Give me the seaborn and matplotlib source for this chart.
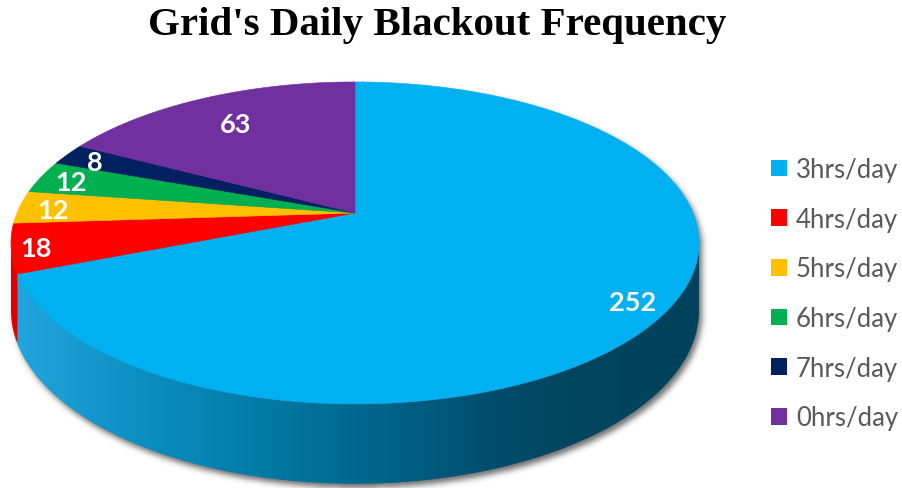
import numpy as np
import matplotlib
matplotlib.use("Agg")
import matplotlib.pyplot as plt
import seaborn as sns
from matplotlib.patches import Polygon, Patch
from matplotlib.path import Path
from matplotlib.colors import LinearSegmentedColormap

# ---- data ----
categories = ["3hrs/day", "4hrs/day", "5hrs/day", "6hrs/day", "7hrs/day", "0hrs/day"]
counts = [252, 18, 12, 12, 8, 63]
colors = ["#00B0F0", "#FF0000", "#FFC000", "#00B050", "#002060", "#7030A0"]
title = "Grid's Daily Blackout Frequency"

sns.set_theme(style="white")
plt.rcParams["font.family"] = ["Lato", "DejaVu Sans"]
palette = sns.color_palette(colors)

W, H = 903, 489
fig = plt.figure(figsize=(W / 100, H / 100), dpi=100)
ax = fig.add_axes([0, 0, 1, 1])
ax.set_xlim(0, W)
ax.set_ylim(H, 0)
ax.axis("off")

# ---- perspective view of the pie disk ----
CX, CY = 355.0, 214.0      # projected centre of the disk
RX, RY = 338.0, 155.4      # horizontal / vertical radii
K = 0.186                  # perspective foreshortening
DEPTH = 65.0               # thickness of the disk


def project(t, r=1.0, z=0.0):
    u = r * np.cos(t)
    v = r * np.sin(t)
    w = 1 + K * v
    return CX + RX * u / w, CY + (-RY * v + z) / w


def arc(t0, t1, r=1.0, z=0.0, n=200):
    t = np.linspace(t0, t1, n)
    x, y = project(t, r, z)
    return np.column_stack([x, y])


total = float(sum(counts))
bounds = 90.0 - 360.0 * np.concatenate([[0], np.cumsum(counts)]) / total
starts_deg, ends_deg = bounds[:-1], bounds[1:]

# part of the rim that faces the viewer
sil = np.degrees(np.arcsin(K))
front = (-180.0 + sil, -sil)

# ---- soft drop shadow under the disk ----
full_front = np.vstack([arc(np.radians(front[0]), np.radians(front[1])),
                        arc(np.radians(front[1]), np.radians(front[0]), z=DEPTH)])
top_ellipse = arc(0, 2 * np.pi, n=400)
gx, gy = np.meshgrid(np.arange(W) + 0.5, np.arange(H) + 0.5)
pts = np.column_stack([gx.ravel() - 3, gy.ravel() - 4])
mask = (Path(full_front).contains_points(pts) | Path(top_ellipse).contains_points(pts))
mask = mask.reshape(H, W).astype(float)
sig = 3.0
kx = np.arange(-10, 11)
kern = np.exp(-kx ** 2 / (2 * sig ** 2))
kern /= kern.sum()
blur = np.apply_along_axis(lambda r: np.convolve(r, kern, mode="same"), 1, mask)
blur = np.apply_along_axis(lambda c: np.convolve(c, kern, mode="same"), 0, blur)
shadow = np.zeros((H, W, 4))
shadow[..., :3] = 0.25
shadow[..., 3] = blur * 0.75
ax.imshow(shadow, extent=(0, W, H, 0), origin="upper", zorder=1, interpolation="bilinear")

# ---- rim (side walls) ----
side_cmaps = {
    0: LinearSegmentedColormap.from_list(
        "rim_blue", [(0.0, "#22a6de"), (0.2, "#0a8ec0"), (0.45, "#006f98"),
                     (0.7, "#004d6c"), (0.82, "#00455f"), (1.0, "#00425b")]),
    1: LinearSegmentedColormap.from_list("rim_red", ["#e00000", "#b00000"]),
}
xgrad = np.linspace(0, 1, 512).reshape(1, -1)
for i, (s, e) in enumerate(zip(starts_deg, ends_deg)):
    lo, hi = max(e, front[0]), min(s, front[1])
    if hi <= lo:
        continue
    poly = np.vstack([arc(np.radians(lo), np.radians(hi)),
                      arc(np.radians(hi), np.radians(lo), z=DEPTH)])
    patch = Polygon(poly, closed=True, facecolor="none", edgecolor="none", zorder=2)
    ax.add_patch(patch)
    cmap = side_cmaps.get(i, LinearSegmentedColormap.from_list("rim", [palette[i], palette[i]]))
    im = ax.imshow(xgrad, cmap=cmap, aspect="auto",
                   extent=(10, 702, H, 0), origin="upper", zorder=2)
    im.set_clip_path(patch)

# ---- top face slices ----
for i, (s, e) in enumerate(zip(starts_deg, ends_deg)):
    poly = np.vstack([[CX, CY], arc(np.radians(s), np.radians(e))])
    ax.add_patch(Polygon(poly, closed=True, facecolor=palette[i],
                         edgecolor=palette[i], linewidth=0.4, zorder=3))

# ---- value labels ----
label_r = [0.9, 0.93, 0.9, 0.9, 0.9, 0.77]
for i, (s, e) in enumerate(zip(starts_deg, ends_deg)):
    mid = np.radians((s + e) / 2)
    lx, ly = project(mid, label_r[i])
    ax.text(lx, ly + 2, f"{counts[i]}", color="white", fontsize=19.5, fontweight="bold",
            ha="center", va="center", zorder=4)

# ---- title ----
fig.text(437 / W, 1 - 26 / H, title, ha="center", va="center",
         fontfamily="Liberation Serif", fontweight="bold", fontsize=29.5, color="black")

# ---- legend ----
handles = [Patch(facecolor=palette[i], edgecolor="none") for i in range(len(categories))]
ax.legend(handles, categories, loc="upper left",
          bbox_to_anchor=(771 / W, 1 - 158 / H), bbox_transform=fig.transFigure,
          frameon=False, fontsize=18.5, handlelength=0.62, handleheight=0.62,
          handletextpad=0.35, labelspacing=0.96, borderpad=0, borderaxespad=0,
          labelcolor="#595959")

fig.savefig("out.png", dpi=100, facecolor="white")
